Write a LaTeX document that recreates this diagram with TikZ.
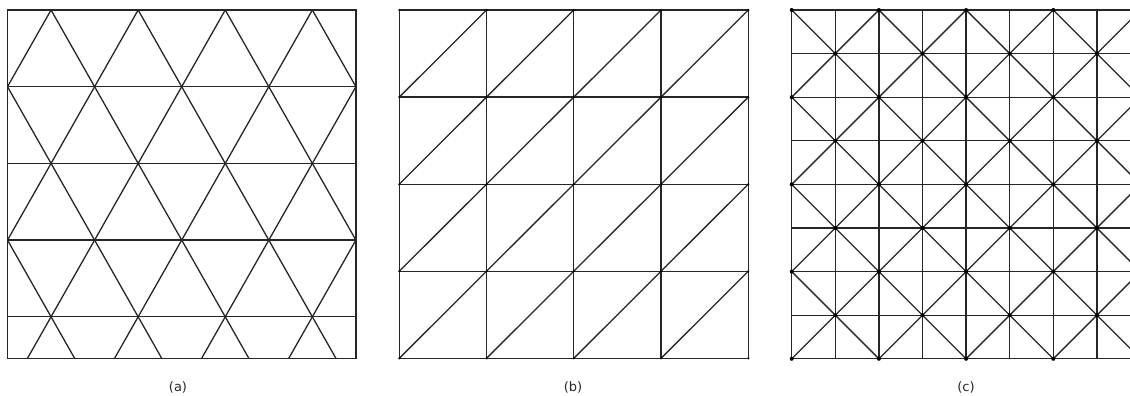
\documentclass[tikz,border=0pt]{standalone}
\usepackage{fontspec}
\setsansfont{DejaVu Sans}
\tikzset{
    mesh/.style={line width=1.3pt,black!85},
    vertex/.style={black},
    caption/.style={font=\sffamily\fontsize{13}{15}\selectfont,text=black!85}
}
\begin{document}
\begin{tikzpicture}[x=1pt,y=-1pt]
    \useasboundingbox (0,0) rectangle (1130,396);
    \clip (0,0) rectangle (1130,396);
    %% (a) equilateral triangles
    \begin{scope}
        \clip (7.5,10) rectangle (356,358.3);
        \foreach \j in {0,...,4} \draw[mesh] (7.5,10+76.7*\j) -- (356,10+76.7*\j);
        \foreach \k in {-3,...,7} {
            \draw[mesh] (51.05+87.1*\k,10) -- ++(-217.75,383.5);
            \draw[mesh] (51.05+87.1*\k,10) -- ++(217.75,383.5);
        }
    \end{scope}
    \draw[mesh] (7.5,10) rectangle (356,358.3);
    \node[caption] (capa) at (178,387) {(a)};
    %% (b) right triangles
    \foreach \i in {0,...,4} {
        \draw[mesh] (399.3+87.25*\i,10) -- (399.3+87.25*\i,358.3);
        \draw[mesh] (399.3,10+87.075*\i) -- (748.3,10+87.075*\i);
    }
    \foreach \i in {0,...,3} \foreach \j in {1,...,4}
        \draw[mesh] (399.3+87.25*\i,10+87.075*\j) -- ++(87.25,-87.075);
    \foreach \i in {0,...,4} \foreach \j in {0,...,4}
        \fill[vertex] (399.3+87.25*\i,10+87.075*\j) circle (1.2pt);
    \node[caption] (capb) at (573,387) {(b)};
    %% (c) union jack
    \foreach \i in {0,...,8} {
        \draw[mesh] (791.7+43.6*\i,10) -- ++(0,348.8);
        \draw[mesh] (791.7,10+43.6*\i) -- ++(348.8,0);
    }
    \begin{scope}
        \clip (791.7,10) rectangle (1140.5,358.8);
        \foreach \m in {-4,...,3} \draw[mesh] (791.7+87.2*\m,10) -- ++(348.8,348.8);
        \foreach \m in {1,...,8} \draw[mesh] (791.7+87.2*\m,10) -- ++(-348.8,348.8);
    \end{scope}
    \foreach \i in {0,2,...,8} \foreach \j in {0,2,...,8}
        \fill[vertex] (791.7+43.6*\i,10+43.6*\j) circle (2pt);
    \foreach \i in {1,3,...,7} \foreach \j in {1,3,...,7}
        \fill[vertex] (791.7+43.6*\i,10+43.6*\j) circle (2pt);
    \node[caption] (capc) at (966,387) {(c)};
\end{tikzpicture}
\end{document}
